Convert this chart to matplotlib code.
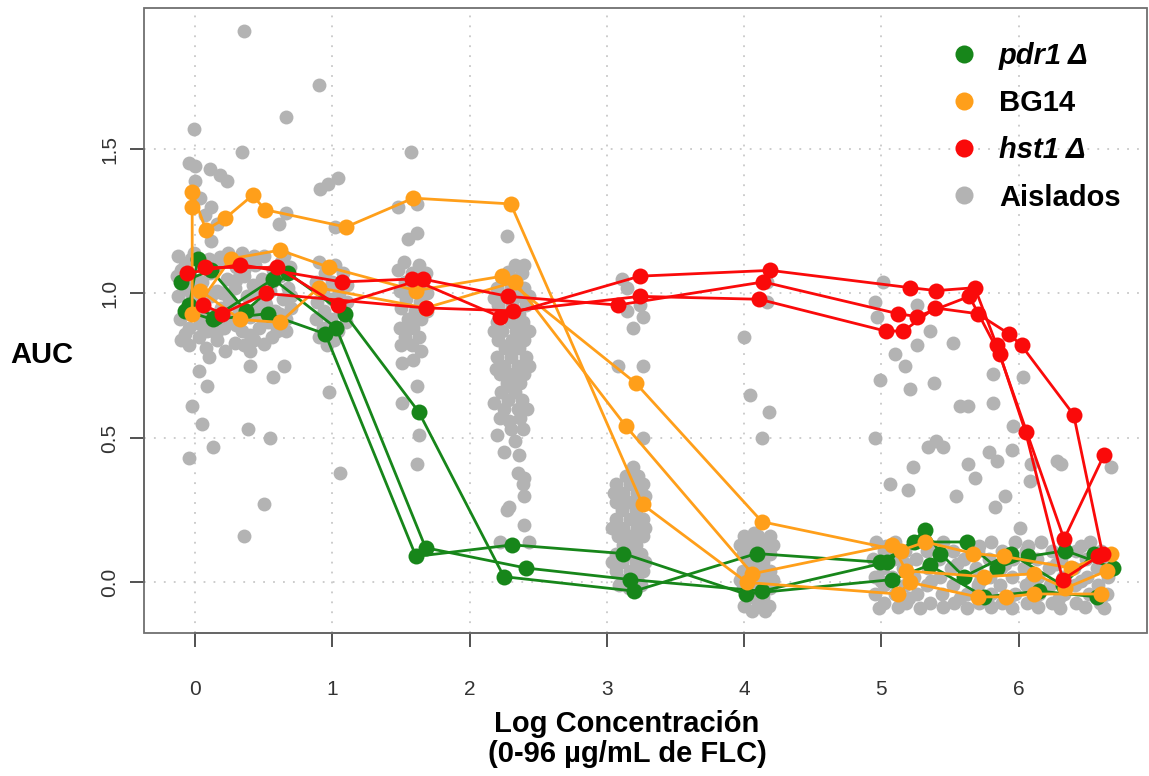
import matplotlib

matplotlib.use("Agg")
import matplotlib.pyplot as plt
from matplotlib.lines import Line2D
from matplotlib.patches import Rectangle

plt.rcParams["font.family"] = ["Liberation Sans", "DejaVu Sans"]

# --- data: log concentration (x) vs AUC (y), three replicates per strain ---
PDR1_X = [
    [-0.10, 0.12, 0.37, 0.68, 1.09, 1.63, 2.25, 3.20, 4.09, 4.99, 5.24, 5.62, 5.84, 6.07, 6.34, 6.69],
    [0.02, -0.04, 0.15, 0.57, 1.03, 1.68, 2.41, 3.17, 4.13, 5.04, 5.32, 5.43, 5.60, 5.94, 6.32, 6.55],
    [-0.07, 0.13, 0.53, 0.95, 1.61, 2.31, 3.12, 4.01, 5.08, 5.35, 5.75, 6.15, 6.57],
]
PDR1_Y = [
    [1.04, 1.08, 0.94, 1.07, 0.93, 0.59, 0.02, -0.03, 0.10, 0.07, 0.14, 0.14, 0.05, 0.09, 0.11, 0.05],
    [1.12, 0.96, 0.92, 1.05, 0.88, 0.12, 0.05, 0.01, -0.03, 0.07, 0.18, 0.10, 0.02, 0.10, -0.01, 0.10],
    [0.94, 0.91, 0.93, 0.86, 0.09, 0.13, 0.10, -0.04, 0.01, 0.06, -0.05, -0.03, -0.05],
]

BG14_X = [
    [-0.02, 0.08, 0.22, 0.42, 0.51, 1.10, 1.59, 2.30, 3.26, 4.02, 5.12, 5.21, 5.70, 5.91, 6.11, 6.60],
    [-0.02, -0.02, 0.26, 0.62, 0.98, 1.61, 2.24, 3.21, 4.13, 5.14, 5.32, 5.67, 5.89, 6.38, 6.67],
    [0.04, 0.33, 0.62, 0.90, 1.68, 2.33, 3.14, 4.06, 5.08, 5.18, 5.75, 6.11, 6.34, 6.64],
]
BG14_Y = [
    [1.35, 1.22, 1.26, 1.34, 1.29, 1.23, 1.33, 1.31, 0.27, 0.00, -0.04, 0.00, -0.05, -0.05, -0.04, -0.04],
    [1.30, 0.93, 1.12, 1.15, 1.09, 1.01, 1.06, 0.69, 0.21, 0.11, 0.14, 0.10, 0.09, 0.05, 0.10],
    [1.01, 0.91, 0.90, 1.02, 0.95, 1.04, 0.54, 0.03, 0.13, 0.04, 0.02, 0.03, -0.02, 0.04],
]

HST1_X = [
    [-0.06, 0.33, 1.07, 1.58, 2.22, 3.24, 4.19, 5.21, 5.40, 5.68, 5.84, 6.05, 6.32, 6.58],
    [0.07, 0.60, 1.04, 1.66, 2.28, 3.08, 4.14, 5.12, 5.26, 5.64, 5.86, 6.33, 6.62],
    [0.06, 0.20, 0.52, 1.68, 2.32, 3.24, 4.11, 5.03, 5.16, 5.39, 5.70, 5.93, 6.02, 6.40, 6.61],
]
HST1_Y = [
    [1.07, 1.10, 1.04, 1.05, 0.92, 1.06, 1.08, 1.02, 1.01, 1.02, 0.82, 0.52, 0.01, 0.09],
    [1.09, 1.09, 0.96, 1.05, 0.99, 0.96, 1.04, 0.93, 0.92, 0.99, 0.79, 0.15, 0.44],
    [0.96, 0.93, 1.00, 0.95, 0.94, 0.99, 0.98, 0.87, 0.87, 0.95, 0.93, 0.86, 0.82, 0.58, 0.10],
]

# clinical isolates (Aislados), read cluster by cluster
GRAY_C0 = [
    (-0.12, 1.13), (-0.01, 1.14), (0.10, 1.12), (0.24, 1.14), (0.37, 1.12), (0.50, 1.13), (0.63, 1.11),
    (-0.07, 1.10), (0.05, 1.09), (0.17, 1.10), (0.30, 1.09), (0.44, 1.10), (0.57, 1.08), (0.69, 1.09),
    (-0.13, 1.06), (-0.02, 1.05), (0.11, 1.07), (0.23, 1.05), (0.36, 1.06), (0.49, 1.05), (0.62, 1.06),
    (-0.08, 1.02), (0.04, 1.03), (0.16, 1.01), (0.29, 1.02), (0.42, 1.03), (0.55, 1.01), (0.68, 1.02),
    (-0.12, 0.99), (0.00, 0.98), (0.12, 0.99), (0.25, 0.98), (0.38, 0.99), (0.51, 0.97), (0.64, 0.98),
    (-0.06, 0.95), (0.07, 0.94), (0.19, 0.95), (0.32, 0.94), (0.45, 0.95), (0.58, 0.94), (0.70, 0.95),
    (-0.11, 0.91), (0.02, 0.92), (0.14, 0.90), (0.27, 0.91), (0.40, 0.92), (0.53, 0.90), (0.66, 0.91),
    (-0.04, 0.88), (0.09, 0.87), (0.21, 0.88), (0.34, 0.87), (0.47, 0.88), (0.60, 0.87),
    (-0.10, 0.84), (0.03, 0.85), (0.16, 0.84), (0.29, 0.83), (0.43, 0.84), (0.56, 0.85),
    (0.08, 0.81), (0.22, 0.80), (-0.04, 0.82),
    (-0.03, 1.12), (0.18, 1.125), (0.43, 1.13), (0.65, 1.13), (-0.10, 1.08), (0.12, 1.085), (0.36, 1.08),
    (0.63, 1.08), (0.05, 1.04), (0.30, 1.045), (0.56, 1.04), (-0.03, 1.00), (0.20, 1.00), (0.47, 1.00),
    (0.70, 0.99), (0.01, 0.96), (0.26, 0.965), (0.52, 0.96), (-0.08, 0.93), (0.20, 0.925), (0.46, 0.93),
    (0.62, 0.93), (0.04, 0.895), (0.30, 0.89), (0.58, 0.895), (-0.07, 0.86), (0.15, 0.86), (0.40, 0.855),
    (0.66, 0.87), (0.36, 0.82), (0.50, 0.825),
]
GRAY_C1 = [
    (0.90, 1.11), (1.02, 1.10), (0.95, 1.07), (1.08, 1.07), (0.88, 1.04), (1.00, 1.04), (1.11, 1.03),
    (0.93, 1.01), (1.05, 1.00), (0.89, 0.97), (1.00, 0.98), (1.11, 0.97), (0.94, 0.94), (1.06, 0.94),
    (0.88, 0.91), (0.99, 0.91), (1.10, 0.90), (0.93, 0.88), (1.04, 0.87), (0.90, 0.85), (1.01, 0.84),
    (0.96, 0.82),
]
GRAY_C16 = [
    (1.52, 1.11), (1.63, 1.10), (1.48, 1.08), (1.58, 1.07), (1.68, 1.07), (1.53, 1.04), (1.64, 1.04),
    (1.49, 1.01), (1.59, 1.01), (1.69, 1.00), (1.54, 0.98), (1.64, 0.97), (1.50, 0.95), (1.60, 0.94),
    (1.69, 0.94), (1.55, 0.91), (1.65, 0.91), (1.49, 0.88), (1.59, 0.88), (1.53, 0.85), (1.63, 0.85),
    (1.50, 0.82), (1.58, 0.82),
]
GRAY_C23 = [
    (2.24, 1.05), (2.34, 1.05), (2.20, 1.02), (2.30, 1.02), (2.40, 1.02), (2.26, 0.99), (2.36, 0.99),
    (2.21, 0.96), (2.31, 0.96), (2.41, 0.96), (2.25, 0.93), (2.36, 0.93), (2.20, 0.90), (2.30, 0.90),
    (2.39, 0.90), (2.24, 0.87), (2.34, 0.87), (2.21, 0.84), (2.31, 0.84), (2.40, 0.84), (2.26, 0.81),
    (2.36, 0.81), (2.20, 0.78), (2.30, 0.78), (2.41, 0.78), (2.25, 0.75), (2.35, 0.75), (2.22, 0.72),
    (2.32, 0.72), (2.40, 0.72), (2.27, 0.69), (2.37, 0.69), (2.23, 0.66), (2.33, 0.66), (2.28, 0.63),
    (2.38, 0.63), (2.25, 0.60), (2.35, 0.60), (2.22, 0.57), (2.37, 0.57), (2.30, 0.53), (2.39, 0.53),
    (2.35, 0.38), (2.40, 0.36), (2.39, 0.34), (2.40, 0.30), (2.29, 0.26), (2.27, 0.25), (2.40, 0.20),
    (2.43, 0.14), (2.22, 0.14),
    (2.28, 1.075), (2.38, 1.07), (2.18, 0.985), (2.43, 0.99), (2.18, 0.87), (2.43, 0.87), (2.29, 0.82),
    (2.19, 0.74), (2.43, 0.75), (2.30, 0.675), (2.18, 0.62), (2.42, 0.60), (2.29, 0.56), (2.20, 0.51),
    (2.33, 0.49), (2.36, 0.44), (2.25, 0.45),
]
GRAY_C32 = [
    (3.11, 1.05), (3.15, 1.02), (3.08, 0.96), (3.15, 0.94), (3.24, 0.96), (3.26, 0.92), (3.19, 0.88),
    (3.08, 0.75), (3.26, 0.75), (3.26, 0.50), (3.19, 0.40),
    (3.07, 0.34), (3.17, 0.34), (3.26, 0.34), (3.12, 0.31), (3.22, 0.31), (3.07, 0.28), (3.16, 0.28),
    (3.25, 0.28), (3.11, 0.25), (3.21, 0.25), (3.07, 0.22), (3.17, 0.22), (3.26, 0.22), (3.12, 0.19),
    (3.22, 0.19), (3.08, 0.16), (3.17, 0.16), (3.26, 0.16), (3.12, 0.13), (3.21, 0.13), (3.07, 0.10),
    (3.16, 0.10), (3.25, 0.10), (3.11, 0.07), (3.21, 0.07), (3.07, 0.04), (3.17, 0.04), (3.26, 0.04),
    (3.12, 0.01), (3.22, 0.01), (3.16, -0.02),
    (3.05, 0.31), (3.28, 0.30), (3.04, 0.19), (3.28, 0.19), (3.04, 0.07), (3.28, 0.07), (3.14, 0.37),
    (3.23, 0.37), (3.09, -0.01), (3.25, -0.01),
]
GRAY_C41 = [
    (4.00, 0.85), (4.04, 0.65), (4.18, 0.59), (4.13, 0.50), (4.17, 1.04), (4.17, 0.97),
    (4.00, 0.16), (4.10, 0.16), (4.19, 0.16), (4.04, 0.13), (4.14, 0.13), (3.99, 0.10), (4.09, 0.10),
    (4.19, 0.10), (4.04, 0.07), (4.14, 0.07), (3.99, 0.04), (4.09, 0.04), (4.19, 0.04), (4.04, 0.01),
    (4.14, 0.01), (3.99, -0.02), (4.09, -0.02), (4.19, -0.02), (4.04, -0.05), (4.14, -0.05),
    (4.00, -0.08), (4.10, -0.08), (4.18, -0.08),
    (3.97, 0.13), (4.21, 0.13), (3.97, 0.01), (4.21, 0.01), (4.07, 0.17), (4.15, -0.10), (4.06, -0.10),
]
GRAY_HIGH = [
    (0.36, 1.91), (0.90, 1.72), (0.66, 1.61), (-0.01, 1.57), (0.34, 1.49), (1.57, 1.49), (-0.04, 1.45),
    (0.00, 1.44), (0.11, 1.43), (0.18, 1.41), (0.23, 1.39), (0.00, 1.39), (0.04, 1.33), (0.12, 1.30),
    (0.07, 1.27), (0.16, 1.24), (0.61, 1.24), (0.66, 1.28), (0.91, 1.36), (0.97, 1.38), (1.04, 1.40),
    (1.02, 1.23), (1.48, 1.30), (1.62, 1.31), (1.55, 1.19), (1.62, 1.21), (2.27, 1.20), (2.33, 1.10),
    (2.40, 1.10), (0.12, 1.18), (0.34, 1.14),
]
GRAY_LOW_LEFT = [
    (0.10, 0.78), (0.03, 0.73), (0.09, 0.68), (0.40, 0.80), (0.40, 0.75), (0.57, 0.71), (0.65, 0.75),
    (-0.02, 0.61), (0.05, 0.55), (0.13, 0.47), (-0.04, 0.43), (0.39, 0.53), (0.55, 0.50), (0.50, 0.27),
    (0.36, 0.16), (0.98, 0.66), (1.06, 0.38), (1.51, 0.76), (1.59, 0.77), (1.65, 0.80), (1.51, 0.62),
    (1.62, 0.68), (1.63, 0.51), (1.62, 0.41),
]
GRAY_MID_RIGHT = [
    (5.01, 1.04), (4.95, 0.97), (4.97, 0.92), (5.26, 0.96), (5.26, 0.82), (5.35, 0.87), (5.10, 0.79),
    (5.17, 0.75), (4.99, 0.70), (5.21, 0.67), (5.38, 0.69), (5.52, 0.83), (5.57, 0.61), (5.63, 0.61),
    (4.95, 0.50), (5.34, 0.47), (5.40, 0.49), (5.45, 0.47), (5.23, 0.40), (5.06, 0.34), (5.19, 0.32),
    (5.54, 0.30), (5.63, 0.41), (5.68, 0.36), (5.78, 0.45), (5.84, 0.42), (5.81, 0.62), (5.81, 0.72),
    (5.96, 0.54), (5.95, 0.46), (5.90, 0.30), (5.83, 0.26), (6.01, 0.19), (6.03, 0.71), (6.09, 0.41),
    (6.08, 0.35), (6.28, 0.42), (6.31, 0.41), (6.67, 0.40),
]
GRAY_BAND = [
    (4.96, 0.14), (5.10, 0.14), (5.26, 0.14), (5.45, 0.14), (5.62, 0.14), (5.80, 0.14), (5.97, 0.14),
    (6.16, 0.14), (6.33, 0.14), (6.52, 0.14),
    (5.02, 0.11), (5.17, 0.11), (5.33, 0.11), (5.52, 0.11), (5.70, 0.11), (5.88, 0.11), (6.05, 0.11),
    (6.24, 0.11), (6.42, 0.11), (6.60, 0.11),
    (4.94, 0.08), (5.09, 0.08), (5.25, 0.08), (5.42, 0.08), (5.60, 0.08), (5.78, 0.08), (5.96, 0.08),
    (6.13, 0.08), (6.31, 0.08), (6.49, 0.08), (6.64, 0.08),
    (5.01, 0.05), (5.16, 0.05), (5.34, 0.05), (5.51, 0.05), (5.69, 0.05), (5.87, 0.05), (6.04, 0.05),
    (6.22, 0.05), (6.40, 0.05), (6.57, 0.05),
    (4.95, 0.02), (5.08, 0.02), (5.24, 0.02), (5.43, 0.02), (5.61, 0.02), (5.79, 0.02), (5.95, 0.02),
    (6.14, 0.02), (6.32, 0.02), (6.50, 0.02), (6.65, 0.02),
    (5.02, -0.01), (5.17, -0.01), (5.33, -0.01), (5.52, -0.01), (5.70, -0.01), (5.86, -0.01),
    (6.05, -0.01), (6.23, -0.01), (6.41, -0.01), (6.58, -0.01),
    (4.95, -0.04), (5.10, -0.04), (5.26, -0.04), (5.44, -0.04), (5.62, -0.04), (5.80, -0.04),
    (5.97, -0.04), (6.15, -0.04), (6.33, -0.04), (6.51, -0.04), (6.64, -0.04),
    (5.02, -0.07), (5.18, -0.07), (5.35, -0.07), (5.53, -0.07), (5.71, -0.07), (5.88, -0.07),
    (6.06, -0.07), (6.24, -0.07), (6.42, -0.07), (6.59, -0.07),
    (4.98, -0.09), (5.28, -0.09), (5.62, -0.09), (5.95, -0.09), (6.30, -0.09), (6.62, -0.09),
    (5.03, 0.125), (5.35, 0.125), (5.71, 0.125), (6.07, 0.125), (6.45, 0.125),
    (5.18, 0.065), (5.55, 0.065), (5.90, 0.065), (6.27, 0.065), (6.60, 0.065),
    (5.00, 0.005), (5.36, 0.005), (5.72, 0.005), (6.09, 0.005), (6.45, 0.005),
    (5.20, -0.055), (5.57, -0.055), (5.93, -0.055), (6.29, -0.055), (6.60, -0.055),
    (5.12, -0.085), (5.45, -0.085), (5.80, -0.085), (6.14, -0.085), (6.48, -0.085),
]

LABELS = ["pdr1 Δ", "BG14", "hst1 Δ", "Aislados"]
X_TICKS = [0, 1, 2, 3, 4, 5, 6]
Y_TICKS = [0.0, 0.5, 1.0, 1.5]

GREEN = "#17861a"
ORANGE = "#ff9f1a"
RED = "#fa0a0a"
GRAY = "#b3b3b3"

W, H = 1149, 776
fig = plt.figure(figsize=(W / 100, H / 100), dpi=100)
ax = fig.add_axes([144 / W, 1 - 633 / H, (1147 - 144) / W, (633 - 8) / H])

gray = GRAY_C0 + GRAY_C1 + GRAY_C16 + GRAY_C23 + GRAY_C32 + GRAY_C41 + GRAY_HIGH + GRAY_LOW_LEFT + GRAY_MID_RIGHT + GRAY_BAND
ax.scatter([p[0] for p in gray], [p[1] for p in gray], s=100, color=GRAY, linewidths=0, zorder=2)

for xs_all, ys_all, col in ((PDR1_X, PDR1_Y, GREEN), (BG14_X, BG14_Y, ORANGE), (HST1_X, HST1_Y, RED)):
    for xs, ys in zip(xs_all, ys_all):
        ax.plot(xs, ys, "-o", color=col, lw=2.0, ms=11.5, mew=0, zorder=3)

ax.set_xlim(-0.371, 6.934)
ax.set_ylim(-0.175, 1.988)
ax.set_xticks(X_TICKS)
ax.set_xticklabels([str(t) for t in X_TICKS])
ax.set_yticks(Y_TICKS)
ax.set_yticklabels([f"{t:.1f}" for t in Y_TICKS])
ax.grid(True, color="#c8c8c8", linestyle=(0, (1, 4.5)), linewidth=1.3)
ax.set_axisbelow(True)

for side in ("top", "right"):
    ax.spines[side].set_visible(False)
ax.spines["bottom"].set_bounds(0, 6)
ax.spines["left"].set_bounds(0, 1.5)
for side in ("bottom", "left"):
    ax.spines[side].set_color("#222222")
    ax.spines[side].set_linewidth(1.4)
ax.add_patch(Rectangle((0, 0), 1, 1, transform=ax.transAxes, fill=False, ec="#707070", lw=1.3, clip_on=False, zorder=5))

ax.tick_params(axis="both", direction="out", length=10, width=1.2, color="#333333",
               labelsize=15, labelcolor="#333333")
ax.tick_params(axis="x", pad=24)
ax.tick_params(axis="y", pad=8, labelrotation=90)
for lab in ax.get_yticklabels():
    lab.set_verticalalignment("center")

handles = [Line2D([], [], marker="o", ls="none", ms=13, mew=0, color=c) for c in (GREEN, ORANGE, RED, GRAY)]
leg = ax.legend(handles, LABELS, loc="upper left", bbox_to_anchor=(0.803, 0.946), frameon=False,
                prop={"weight": "bold", "size": 21}, handlelength=1.0, handletextpad=0.7,
                labelspacing=0.66, borderpad=0, borderaxespad=0)
leg.get_texts()[0].set_style("italic")
leg.get_texts()[2].set_style("italic")

fig.text(42 / W, 1 - 355 / H, "AUC", fontsize=21, fontweight="bold", ha="center", va="center")
fig.text(627 / W, 1 - 739 / H, "Log Concentración\n(0-96 µg/mL de FLC)", fontsize=21,
         fontweight="bold", ha="center", va="center", linespacing=1.05)

fig.savefig("out.png", dpi=100)
